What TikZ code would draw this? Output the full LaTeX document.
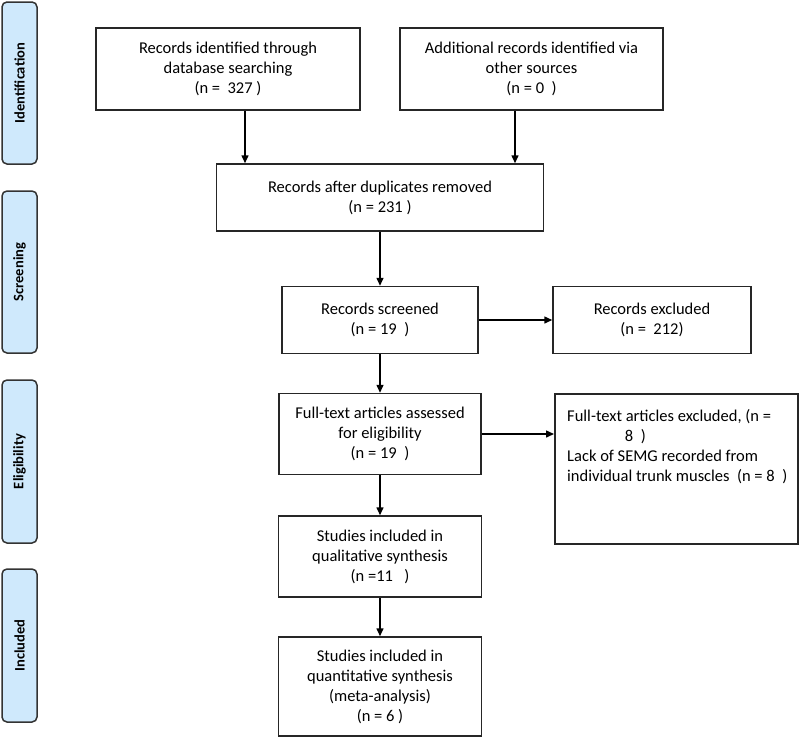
\documentclass[tikz,border=0pt]{standalone}
\usepackage{fontspec}
\setmainfont{Carlito}
\usetikzlibrary{arrows.meta}
\definecolor{phaseblue}{RGB}{207,233,252}
\tikzset{
    box/.style={draw=black!85, line width=1.5pt, align=center, inner sep=2pt},
    phase/.style={draw=black!80, line width=1.5pt, fill=phaseblue, rounded corners=5pt,
        rotate=90, minimum height=35pt, font=\fontsize{14.5}{17}\bfseries\selectfont},
    flow/.style={->, line width=1.5pt},
    >={Triangle[length=8pt,width=7pt]}
}
\begin{document}
\begin{tikzpicture}[x=1pt, y=-1pt, font=\fontsize{16.5}{20}\selectfont]
    \useasboundingbox (0,0) rectangle (800,747);
    % phase labels on the left
    \node[phase, minimum width=162pt] (ident) at (19.5,83) {Identification};
    \node[phase, minimum width=162pt] (screen) at (19.5,272) {Screening};
    \node[phase, minimum width=163pt] (elig) at (19.5,461.5) {Eligibility};
    \node[phase, minimum width=153pt] (incl) at (19.5,645.5) {Included};
    % identification
    \node[box, minimum width=264pt, minimum height=82pt] (dbsearch) at (228,69)
        {Records identified through\\database searching\\(n =~~327 )};
    \node[box, minimum width=263pt, minimum height=82pt] (othersrc) at (531.5,69)
        {Additional records identified via\\other sources\\(n = 0~~)};
    % screening
    \node[box, minimum width=327pt, minimum height=67pt] (dedup) at (380,197.5)
        {Records after duplicates removed\\(n = 231 )};
    \node[box, minimum width=196pt, minimum height=67pt] (screened) at (380,320)
        {Records screened\\(n = 19~~)};
    \node[box, minimum width=198pt, minimum height=67pt] (excluded) at (652,320)
        {Records excluded\\(n =~~212)};
    % eligibility
    \node[box, minimum width=202pt, minimum height=81pt] (fulltext) at (380,434)
        {Full-text articles assessed\\for eligibility\\(n = 19~~)};
    \node[box, minimum width=243pt, minimum height=150pt, anchor=north west,
        inner sep=0pt] (ftexcl) at (554,393) {};
    \node[anchor=north west, align=left, inner sep=0pt] (ftexcltext) at (567,409)
        {Full-text articles excluded, (n =\\
         \hspace*{3.5em}8~~)\\
         Lack of SEMG recorded from\\
         individual trunk muscles~~(n = 8~~)};
    % included
    \node[box, minimum width=203pt, minimum height=81pt] (qual) at (380,556.5)
        {Studies included in\\qualitative synthesis\\(n =11~~~)};
    \node[box, minimum width=203pt, minimum height=99pt] (quant) at (380,686.5)
        {Studies included in\\quantitative synthesis\\(meta-analysis)\\(n = 6 )};
    % arrows
    \draw[flow] ([xshift=17pt]dbsearch.south) -- ([xshift=17pt]dbsearch.south |- dedup.north);
    \draw[flow] ([xshift=-16.5pt]othersrc.south) -- ([xshift=-16.5pt]othersrc.south |- dedup.north);
    \draw[flow] (dedup.south) -- (dedup.south |- screened.north);
    \draw[flow] (screened.east) -- (excluded.west);
    \draw[flow] (screened.south) -- (screened.south |- fulltext.north);
    \draw[flow] (fulltext.east) -- (fulltext.east -| ftexcl.west);
    \draw[flow] (fulltext.south) -- (fulltext.south |- qual.north);
    \draw[flow] (qual.south) -- (quant.north);
\end{tikzpicture}
\end{document}
